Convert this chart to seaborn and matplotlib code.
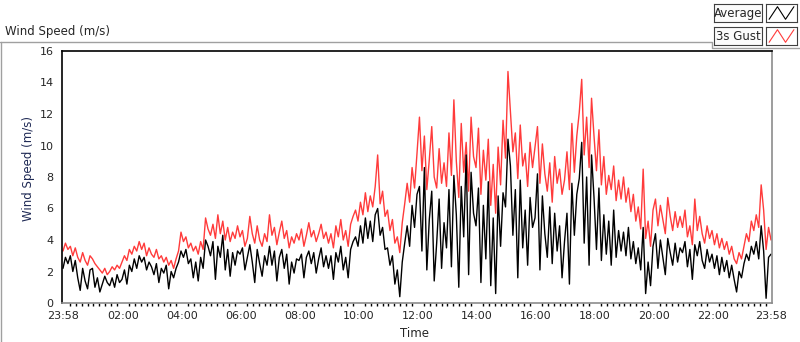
import matplotlib
matplotlib.use("Agg")
import matplotlib.pyplot as plt
from matplotlib.lines import Line2D
import numpy as np
import pandas as pd
import seaborn as sns

# 5-minute samples starting 23:58 (previous day), one row per hour
gust = [
    3.3, 3.8, 3.4, 3.6, 3.0, 3.5, 2.9, 2.6, 3.2, 2.7, 2.4, 3.0,
    2.8, 2.5, 2.3, 2.1, 1.9, 2.2, 1.8, 2.0, 2.3, 2.1, 2.4, 2.2,
    2.6, 3.0, 2.7, 3.4, 3.1, 3.6, 3.3, 3.9, 3.4, 3.8, 3.0, 3.5,
    3.1, 2.9, 3.4, 2.8, 3.0, 2.6, 2.9, 2.4, 2.7, 2.2, 2.8, 3.3,
    4.5, 3.9, 4.2, 3.5, 3.8, 3.3, 3.6, 3.1, 3.9, 3.4, 5.4, 4.7,
    4.3, 5.0, 4.1, 5.6, 4.4, 5.2, 4.0, 4.8, 3.9, 4.5, 4.1, 4.9,
    4.2, 4.6, 3.6, 4.1, 5.5, 4.4, 3.8, 4.9, 4.0, 3.6, 4.4, 3.9,
    5.6, 4.3, 4.8, 3.7, 4.5, 5.2, 4.1, 4.6, 3.5, 4.2, 3.8, 4.4,
    4.0, 4.7, 3.6, 4.3, 5.1, 4.2, 4.6, 3.9, 4.4, 5.0, 4.1, 4.5,
    3.8, 4.4, 3.5, 4.9, 4.2, 5.3, 4.0, 4.6, 3.6, 5.0, 5.5, 5.9,
    5.2, 6.4, 5.6, 7.0, 5.8, 6.8, 6.1, 7.4, 9.4, 6.3, 7.1, 5.5,
    5.9, 4.6, 5.3, 3.8, 4.2, 3.2, 5.1, 6.3, 7.6, 6.4, 8.6, 7.3,
    9.5, 11.8, 8.4, 10.6, 7.2, 9.1, 11.2, 8.0, 7.3, 9.8, 7.6, 8.9,
    7.4, 10.8, 8.1, 12.9, 9.0, 6.7, 11.4, 8.3, 10.2, 7.1, 11.8, 9.3,
    8.6, 11.1, 6.9, 9.7, 7.8, 10.4, 6.2, 8.8, 5.7, 9.9, 7.5, 11.6,
    9.2, 14.7, 12.1, 9.6, 10.8, 7.9, 11.3, 8.7, 9.5, 7.4, 10.2, 8.6,
    9.9, 11.2, 7.6, 10.1, 8.2, 7.1, 8.9, 6.4, 9.3, 7.6, 8.5, 6.9,
    7.8, 9.6, 7.2, 11.4, 8.3, 10.6, 12.1, 14.2, 9.4, 11.8, 8.6, 13.0,
    10.6, 8.4, 11.0, 7.5, 9.3, 6.9, 8.1, 7.2, 8.7, 6.5, 7.8, 6.6,
    8.0, 6.4, 7.3, 5.8, 6.9, 5.2, 6.1, 4.7, 8.5, 4.1, 5.2, 3.6,
    5.9, 6.6, 4.9, 6.2, 5.3, 4.4, 6.7, 5.5, 4.6, 5.8, 4.8, 5.5,
    4.8, 5.9, 4.2, 4.9, 3.7, 6.6, 4.6, 5.5, 4.4, 3.8, 4.9, 4.1,
    4.6, 3.7, 4.4, 3.5, 4.1, 3.4, 3.9, 3.1, 3.6, 2.8, 2.5, 3.2,
    2.8, 3.6, 4.4, 3.9, 5.2, 4.6, 5.6, 4.8, 7.5, 5.9, 3.4, 4.8, 4.0,
]
average = [
    2.2, 2.9, 2.5, 3.0, 2.0, 2.7, 1.6, 0.8, 2.2, 1.4, 0.9, 2.1,
    2.2, 1.0, 1.6, 0.7, 1.2, 1.7, 1.3, 1.1, 1.6, 1.0, 1.8, 1.3,
    1.5, 2.1, 1.2, 2.4, 2.0, 2.8, 2.2, 3.0, 2.6, 2.9, 2.1, 2.6,
    2.3, 1.8, 2.5, 1.3, 2.2, 1.9, 2.4, 0.9, 2.0, 1.6, 2.2, 2.6,
    3.3, 2.9, 3.4, 2.5, 2.8, 1.6, 2.6, 1.4, 2.9, 2.2, 4.0, 3.6,
    3.0, 3.9, 1.5, 3.6, 2.9, 4.3, 2.1, 3.4, 1.7, 3.2, 2.4, 3.3,
    3.1, 3.5, 2.1, 2.9, 3.7, 2.6, 1.3, 3.4, 2.5, 1.7, 3.0, 2.4,
    3.6, 2.4, 3.3, 1.4, 2.9, 3.4, 2.2, 3.1, 1.2, 2.6, 1.9, 2.8,
    2.7, 3.1, 1.6, 2.9, 3.3, 2.5, 3.2, 1.9, 2.8, 3.5, 2.3, 3.0,
    2.2, 3.0, 1.5, 3.2, 2.6, 3.6, 2.1, 2.9, 1.6, 3.4, 3.9, 4.2,
    3.6, 4.9, 3.8, 5.4, 4.1, 5.2, 3.9, 5.6, 6.0, 4.3, 4.8, 3.4,
    3.5, 2.4, 3.0, 1.2, 2.1, 0.4, 2.6, 3.8, 4.9, 3.6, 6.2, 4.8,
    6.9, 7.4, 3.3, 8.6, 2.1, 5.3, 7.1, 1.4, 3.8, 6.6, 2.2, 5.1,
    3.5, 7.2, 2.3, 8.1, 5.6, 1.0, 7.4, 4.2, 9.4, 1.8, 8.3, 5.7,
    4.9, 7.3, 1.3, 6.2, 2.8, 7.7, 1.1, 5.4, 0.6, 6.8, 3.6, 7.0,
    6.1, 10.4, 8.7, 4.3, 7.2, 1.6, 7.8, 3.5, 5.9, 2.4, 6.7, 4.8,
    5.4, 8.2, 2.1, 6.8, 4.4, 2.9, 6.1, 2.5, 5.7, 3.3, 4.9, 1.6,
    3.9, 5.7, 1.2, 7.6, 4.3, 6.9, 7.9, 10.2, 3.8, 8.0, 2.4, 9.4,
    6.7, 3.4, 7.3, 2.7, 5.6, 3.1, 5.2, 2.4, 5.9, 2.9, 4.6, 3.3,
    4.5, 3.0, 4.8, 2.8, 3.9, 2.5, 3.5, 2.1, 4.8, 0.6, 2.6, 1.1,
    3.6, 4.4, 2.2, 4.0, 2.9, 1.8, 4.1, 3.2, 2.4, 3.8, 2.6, 3.5,
    3.2, 3.9, 2.3, 3.4, 1.5, 3.7, 3.0, 3.9, 2.7, 2.2, 3.4, 2.6,
    3.1, 2.2, 3.0, 1.8, 2.9, 2.0, 2.7, 1.6, 2.4, 1.5, 0.7, 2.0,
    1.6, 2.5, 3.1, 2.7, 3.6, 3.1, 3.9, 2.8, 4.9, 3.3, 0.3, 2.9, 3.1,
]
minutes = [5 * i for i in range(len(gust))]  # minutes after 23:58

tick_minutes = [0, 122, 242, 362, 482, 602, 722, 842, 962, 1082, 1202, 1322, 1440]
tick_labels = ["23:58", "02:00", "04:00", "06:00", "08:00", "10:00", "12:00",
               "14:00", "16:00", "18:00", "20:00", "22:00", "23:58"]

df = pd.DataFrame({"minute": minutes, "Average": average, "3s Gust": gust})

sns.set_style("white")
plt.rcParams["font.family"] = ["DejaVu Sans"]

W, H = 800, 342
fig = plt.figure(figsize=(8, 3.42), dpi=100)
ax = fig.add_axes([62 / W, 39 / H, 710 / W, 252 / H])

sns.lineplot(data=df, x="minute", y="3s Gust", color="#ff3b3b", lw=1.0, ax=ax)
sns.lineplot(data=df, x="minute", y="Average", color="black", lw=1.0, ax=ax)

ax.set_xlim(-2, 1442)
ax.set_ylim(0, 16)
ax.set_yticks(range(0, 17, 2))
ax.set_xticks(tick_minutes)
ax.set_xticklabels(tick_labels)
ax.set_xticks([m for m in range(14, 1440, 12) if m not in tick_minutes], minor=True)
ax.tick_params(axis="both", which="major", labelsize=8, length=4, width=1,
               direction="out", pad=2, color="black")
ax.tick_params(axis="x", which="minor", length=2.5, width=1, color="black",
               direction="out", bottom=True)
ax.tick_params(axis="x", which="major", width=1.5, length=3.5)

for side in ["left", "top"]:
    ax.spines[side].set_color("black")
    ax.spines[side].set_linewidth(1.2)
for side in ["bottom", "right"]:
    ax.spines[side].set_color("#8c8c8c")
    ax.spines[side].set_linewidth(1.2)

ax.set_xlabel("Time", fontsize=8.5, va="center")
ax.xaxis.set_label_coords(0.497, -0.122)
ax.set_ylabel("Wind Speed (m/s)", fontsize=8.5, color="#1f2a55")
ax.yaxis.set_label_coords(-0.038, 0.535)

# chart frame and title
fig.add_artist(Line2D([1 / W, 1 / W], [0, 1 - 42 / H], transform=fig.transFigure,
                      color="#a0a0a0", lw=1))
fig.add_artist(Line2D([0, 712 / W, 712 / W, 1], [1 - 42 / H, 1 - 42 / H, 1 - 48 / H, 1 - 48 / H],
                      transform=fig.transFigure, color="#a0a0a0", lw=1))
fig.text(5 / W, 1 - 32 / H, "Wind Speed (m/s)", fontsize=8.5, va="center", ha="left")

# legend panel
for y0, label, col in [(4, "Average", "black"), (27, "3s Gust", "#ff3b3b")]:
    tax = fig.add_axes([714 / W, 1 - (y0 + 18) / H, 48 / W, 18 / H])
    tax.set_xticks([])
    tax.set_yticks([])
    tax.set_facecolor("#fbfbfb")
    for s in tax.spines.values():
        s.set_color("#404040")
        s.set_linewidth(0.8)
    tax.text(0.5, 0.5, label, ha="center", va="center", fontsize=8.5,
             transform=tax.transAxes)
    iax = fig.add_axes([766 / W, 1 - (y0 + 18) / H, 31 / W, 18 / H])
    iax.set_xticks([])
    iax.set_yticks([])
    for s in iax.spines.values():
        s.set_color("#404040")
        s.set_linewidth(0.8)
    iax.plot([0.1, 0.37, 0.63, 0.9], [0.15, 0.85, 0.15, 0.85], color=col, lw=0.8)
    iax.set_xlim(0, 1)
    iax.set_ylim(0, 1)

fig.savefig("out.png", dpi=100)
